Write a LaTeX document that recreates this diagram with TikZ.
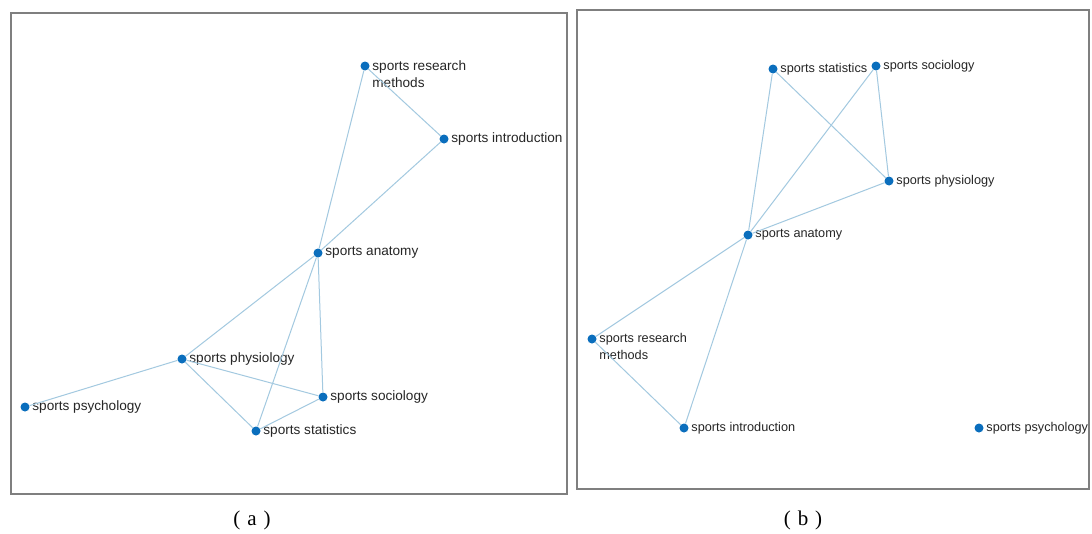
\documentclass[tikz,border=0pt]{standalone}
\usepackage{fontspec}
\setmainfont{Liberation Sans}
\newfontfamily\capfont{Liberation Serif}
\definecolor{dotblue}{HTML}{0A6EBD}
\definecolor{edgeblue}{HTML}{A3C9E0}
\definecolor{framegray}{HTML}{7F7F7F}
\begin{document}
\begin{tikzpicture}[x=1pt,y=-1pt,
  vtx/.style={circle,fill=dotblue,inner sep=0pt,minimum size=9pt},
  lbl/.style={font=\fontsize{13.6}{17}\selectfont,text=black!85,inner sep=1pt},
  lblr/.style={label={[lbl,label distance=1.5pt]east:#1}},
  lbltwo/.style={label={[lbl,align=left,anchor=north west,label distance=1.5pt,yshift=7pt]east:#1}},
  lblb/.style={font=\fontsize{12.7}{16.5}\selectfont,text=black!85,inner sep=1pt},
  lblbr/.style={label={[lblb,label distance=1.5pt]east:#1}},
  lblbtwo/.style={label={[lblb,align=left,anchor=north west,label distance=1.5pt,yshift=6.5pt]east:#1}},
  edge/.style={draw=edgeblue,line width=1pt},
  panel/.style={draw=framegray,line width=1.2pt},
  captxt/.style={font=\capfont\fontsize{21}{24}\selectfont,inner sep=0pt}]
\useasboundingbox[fill=white] (0,0) rectangle (1092,533);
% panel frames
\draw[panel] (11,13) rectangle (567,494);
\draw[panel] (577,10) rectangle (1089,489);
% ---------- panel (a) ----------
\node[vtx,lbltwo={sports research\\methods}] (a-rm) at (365,66) {};
\node[vtx,lblr={sports introduction}] (a-in) at (444,139) {};
\node[vtx,lblr={sports anatomy}] (a-an) at (318,253) {};
\node[vtx,lblr={sports physiology}] (a-ph) at (182,359) {};
\node[vtx,lblr={sports psychology}] (a-ps) at (25,407) {};
\node[vtx,lblr={sports sociology}] (a-so) at (323,397) {};
\node[vtx,lblr={sports statistics}] (a-st) at (256,431) {};
\draw[edge] (a-rm) -- (a-in);
\draw[edge] (a-rm) -- (a-an);
\draw[edge] (a-in) -- (a-an);
\draw[edge] (a-an) -- (a-ph);
\draw[edge] (a-an) -- (a-st);
\draw[edge] (a-an) -- (a-so);
\draw[edge] (a-ph) -- (a-ps);
\draw[edge] (a-ph) -- (a-so);
\draw[edge] (a-ph) -- (a-st);
\draw[edge] (a-st) -- (a-so);
% ---------- panel (b) ----------
\node[vtx,lblbr={sports statistics}] (b-st) at (773,69) {};
\node[vtx,lblbr={sports sociology}] (b-so) at (876,66) {};
\node[vtx,lblbr={sports physiology}] (b-ph) at (889,181) {};
\node[vtx,lblbr={sports anatomy}] (b-an) at (748,235) {};
\node[vtx,lblbtwo={sports research\\methods}] (b-rm) at (592,339) {};
\node[vtx,lblbr={sports introduction}] (b-in) at (684,428) {};
\node[vtx,lblbr={sports psychology}] (b-ps) at (979,428) {};
\draw[edge] (b-st) -- (b-an);
\draw[edge] (b-st) -- (b-ph);
\draw[edge] (b-so) -- (b-an);
\draw[edge] (b-so) -- (b-ph);
\draw[edge] (b-ph) -- (b-an);
\draw[edge] (b-an) -- (b-rm);
\draw[edge] (b-an) -- (b-in);
\draw[edge] (b-rm) -- (b-in);
% captions
\node[captxt] (cap-a) at (252,520) {(\kern7pt a\kern7pt)};
\node[captxt] (cap-b) at (803,520) {(\kern7pt b\kern7pt)};
\end{tikzpicture}
\end{document}
